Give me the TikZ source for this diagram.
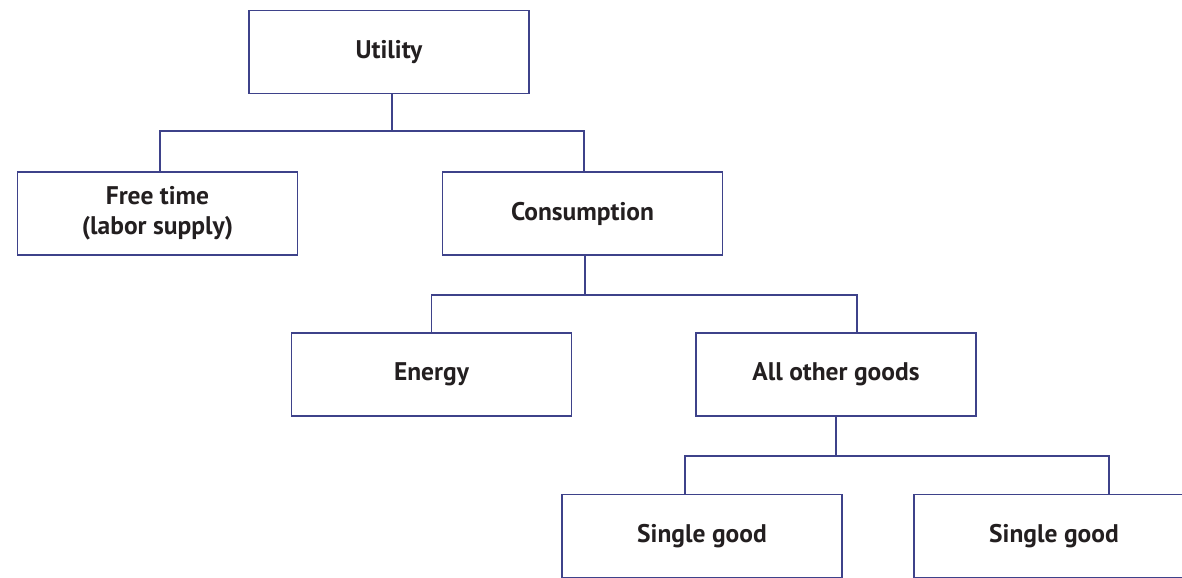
\documentclass[tikz,border=0pt]{standalone}
\usepackage{fontspec}
\setmainfont{PT Sans}
\usetikzlibrary{positioning}
\definecolor{lineBlue}{RGB}{62,66,138}
\definecolor{textGray}{RGB}{35,31,32}
\tikzset{
	goodBox/.style={rectangle, draw=lineBlue, line width=1.1pt, minimum width=5.6cm, minimum height=1.66cm, align=center, text=textGray, font=\fontsize{14.5}{17}\selectfont\bfseries},
	link/.style={draw=lineBlue, line width=1.1pt}
}
\begin{document}
\begin{tikzpicture}
		\useasboundingbox (0,0) rectangle (23.64,-11.56);
		\node[goodBox](utilityBox) at (7.78,-1.04){Utility};
		\node[goodBox](freeTimeBox) at (3.15,-4.27){Free time\\(labor supply)};
		\node[goodBox](consumptionBox) at (11.65,-4.27){Consumption};
		\node[goodBox](energyBox) at (8.63,-7.49){Energy};
		\node[goodBox](otherGoodsBox) at (16.72,-7.49){All other goods};
		\node[goodBox](singleGood1Box) at (14.04,-10.72){Single good};
		\node[goodBox](singleGood2Box) at (21.08,-10.72){Single good};
		\draw[link] ([xshift=0.06cm]utilityBox.south) -- ++(0,-0.74) -| ([xshift=0.05cm]freeTimeBox.north);
		\draw[link] ([xshift=0.06cm]utilityBox.south) -- ++(0,-0.74) -| ([xshift=0.03cm]consumptionBox.north);
		\draw[link] ([xshift=0.05cm]consumptionBox.south) -- ++(0,-0.78) -| (energyBox.north);
		\draw[link] ([xshift=0.05cm]consumptionBox.south) -- ++(0,-0.78) -| ([xshift=0.42cm]otherGoodsBox.north);
		\draw[link] (otherGoodsBox.south) -- ++(0,-0.78) -| ([xshift=-0.34cm]singleGood1Box.north);
		\draw[link] (otherGoodsBox.south) -- ++(0,-0.78) -| ([xshift=1.1cm]singleGood2Box.north);
	\end{tikzpicture}
\end{document}
